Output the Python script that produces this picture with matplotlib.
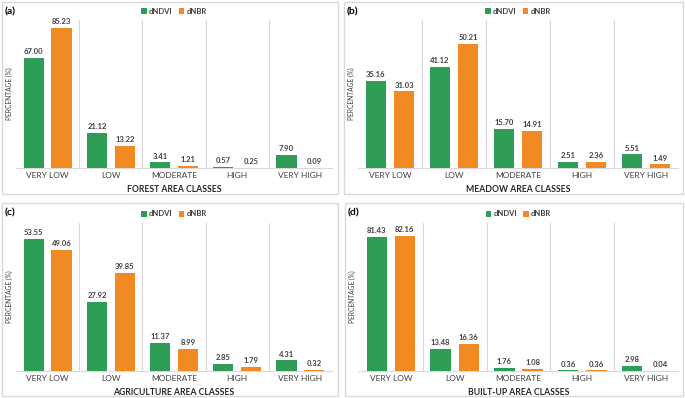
import numpy as np
import matplotlib
matplotlib.use('Agg')
from matplotlib import pyplot as plt
from matplotlib.patches import Rectangle

plt.rcParams['font.family'] = ['Lato', 'DejaVu Sans']

classes = ['VERY LOW', 'LOW', 'MODERATE', 'HIGH', 'VERY HIGH']

forest_ndvi = [67.00, 21.12, 3.41, 0.57, 7.90]
forest_nbr = [85.23, 13.22, 1.21, 0.25, 0.09]
meadow_ndvi = [35.16, 41.12, 15.70, 2.51, 5.51]
meadow_nbr = [31.03, 50.21, 14.91, 2.36, 1.49]
agri_ndvi = [53.55, 27.92, 11.37, 2.85, 4.31]
agri_nbr = [49.06, 39.85, 8.99, 1.79, 0.32]
built_ndvi = [81.43, 13.48, 1.76, 0.36, 2.98]
built_nbr = [82.16, 16.36, 1.08, 0.36, 0.04]

panels = [
    ('(a)', 'FOREST AREA CLASSES', forest_ndvi, forest_nbr, 90),
    ('(b)', 'MEADOW AREA CLASSES', meadow_ndvi, meadow_nbr, 60),
    ('(c)', 'AGRICULTURE AREA CLASSES', agri_ndvi, agri_nbr, 60),
    ('(d)', 'BUILT-UP AREA CLASSES', built_ndvi, built_nbr, 90),
]

GREEN = '#2e9e57'
ORANGE = '#f28a24'
TXT = '#404040'
GRID = '#d9d9d9'

W, H = 685, 398
fig = plt.figure(figsize=(W / 100, H / 100), dpi=100)

# panel boxes (pixels): left, top, right, bottom
boxes = [(2, 2, 338, 194), (344, 2, 683, 194), (2, 203, 338, 396), (345, 203, 683, 396)]
# axes areas (pixels): left, top, right, bottom
areas = [(16, 20, 332, 168), (358, 20, 678, 168), (16, 223, 332, 371), (359, 223, 678, 371)]


def px(rect):
    l, t, r, b = rect
    return [l / W, 1 - b / H, (r - l) / W, (b - t) / H]


for (tag, title, ndvi, nbr, ymax), box, area in zip(panels, boxes, areas):
    bx = px(box)
    fig.patches.append(Rectangle((bx[0], bx[1]), bx[2], bx[3], transform=fig.transFigure,
                                 facecolor='none', edgecolor=GRID, lw=1, zorder=-1))
    fig.text(bx[0] + 3 / W, 1 - 10 / H - box[1] / H, tag, fontsize=7.5, fontweight='bold',
             color='black', va='center', ha='left')

    ax = fig.add_axes(px(area))
    ax.patch.set_alpha(0)
    x = np.arange(len(classes))
    g = ax.bar(x - 0.22, ndvi, width=0.32, color=GREEN, label='dNDVI', zorder=3)
    o = ax.bar(x + 0.22, nbr, width=0.32, color=ORANGE, label='dNBR', zorder=3)
    for rects, vals in ((g, ndvi), (o, nbr)):
        for rc, v in zip(rects, vals):
            ax.annotate(f'{v:.2f}', (rc.get_x() + rc.get_width() / 2, v), xytext=(0, 2),
                        textcoords='offset points', ha='center', va='bottom',
                        fontsize=5.5, fontweight='bold', color=TXT)

    for s in x[:-1] + 0.5:
        ax.axvline(s, color=GRID, lw=0.8, zorder=1)
    ax.set_xlim(-0.5, len(classes) - 0.5)
    ax.set_ylim(0, ymax)
    for sp in ['top', 'right', 'left']:
        ax.spines[sp].set_visible(False)
    ax.spines['bottom'].set_color(GRID)
    ax.set_yticks([])
    ax.set_xticks(x)
    ax.set_xticklabels(classes, fontsize=6, color=TXT)
    ax.tick_params(axis='x', length=0, pad=3)
    ax.set_xlabel(title, fontsize=6.2, fontweight='bold', color='#262626', labelpad=4)
    ax.set_ylabel('PERCENTAGE (%)', fontsize=4.8, color=TXT, labelpad=2)
    leg = ax.legend(loc='center', bbox_to_anchor=(0.5, 1 + 9 / 148), ncol=2, frameon=False,
                    handlelength=0.7, handleheight=0.7, handletextpad=0.3, columnspacing=0.8,
                    prop={'size': 5.5, 'weight': 'bold'})
    for t in leg.get_texts():
        t.set_color(TXT)

fig.savefig('out.png', dpi=100)
